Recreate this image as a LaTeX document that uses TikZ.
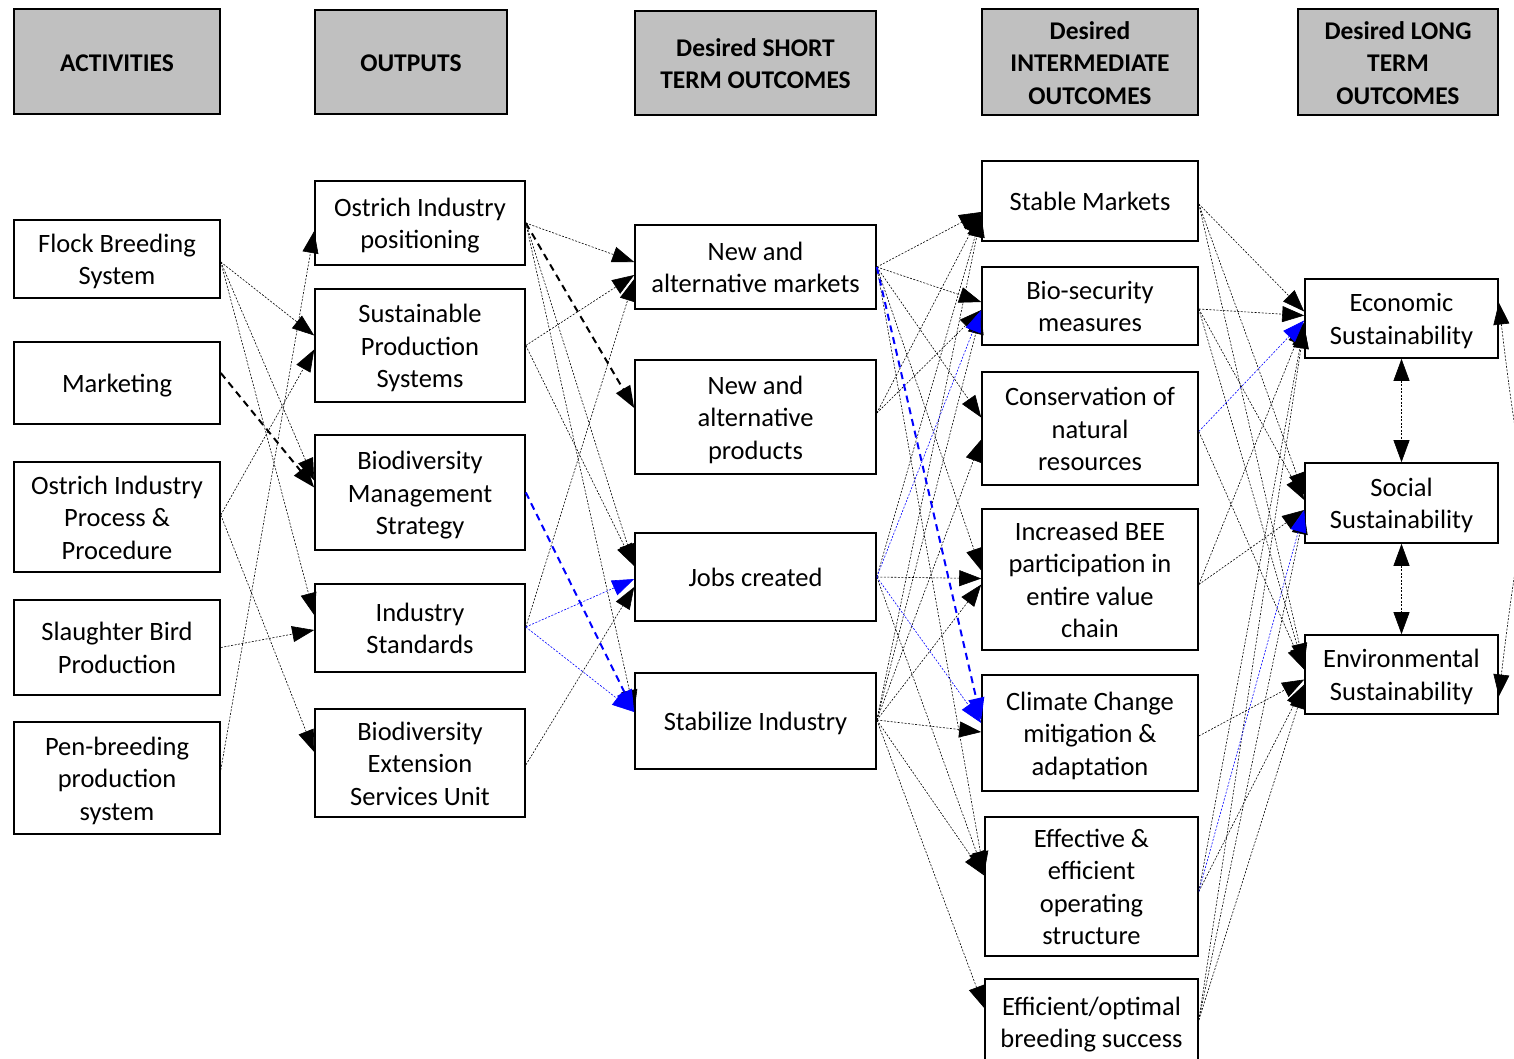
\documentclass[tikz,border=0pt]{standalone}
\usepackage{fontspec}
\setmainfont{Carlito}
\usetikzlibrary{arrows.meta}
\definecolor{headgray}{RGB}{192,192,192}
% first-line strut: Word style line box (gap above the text)
\newcommand{\ls}{\rule[-6.6pt]{0pt}{32.3pt}}
\begin{document}
\begin{tikzpicture}[x=1pt,y=-1pt,
	box/.style={draw=black, line width=1.6pt, align=center, inner sep=2pt, font=\fontsize{26.5}{32.5}\selectfont,
		execute at end node={\rule[-6.6pt]{0pt}{6.6pt}}},
	head/.style={box, fill=headgray, font=\fontsize{25.5}{32.5}\selectfont\bfseries},
	tip/.style={-{Triangle[length=22pt,width=16pt]}},
	link/.style={tip, black, line width=0.6pt, dash pattern=on 2pt off 1.5pt},
	bluelink/.style={link, blue},
	boldlink/.style={tip, black, line width=2pt, dash pattern=on 7pt off 5pt},
	boldblue/.style={boldlink, blue},
	twoway/.style={link, {Triangle[length=22pt,width=16pt]}-{Triangle[length=22pt,width=16pt]}}]
	\useasboundingbox (0,0) rectangle (1514,1058);

	% column headings
	\node[head, minimum width=206pt, minimum height=105pt] (hact) at (117,61.5) {\ls ACTIVITIES};
	\node[head, minimum width=192pt, minimum height=104pt] (hout) at (411,62) {\ls OUTPUTS};
	\node[head, minimum width=241pt, minimum height=104pt] (hshort) at (755.5,63) {\ls Desired SHORT\\TERM OUTCOMES};
	\node[head, minimum width=216pt, minimum height=106pt] (hint) at (1090,62) {\ls Desired\\INTERMEDIATE\\OUTCOMES};
	\node[head, minimum width=200pt, minimum height=106pt] (hlong) at (1398,62) {\ls Desired LONG\\TERM\\OUTCOMES};

	% activities
	\node[box, minimum width=206pt, minimum height=78pt] (flock) at (117,259) {\ls Flock Breeding\\System};
	\node[box, minimum width=206pt, minimum height=82pt] (mkt) at (117,383) {\ls Marketing};
	\node[box, minimum width=206pt, minimum height=110pt] (proc) at (117,517) {\ls Ostrich Industry\\Process \&\\Procedure};
	\node[box, minimum width=206pt, minimum height=95pt] (slaughter) at (117,647.5) {\ls Slaughter Bird\\Production};
	\node[box, minimum width=206pt, minimum height=112pt] (pen) at (117,778) {\ls Pen-breeding\\production\\system};

	% outputs
	\node[box, minimum width=210pt, minimum height=84pt] (pos) at (420,223) {\ls Ostrich Industry\\positioning};
	\node[box, minimum width=210pt, minimum height=113pt] (sust) at (420,345.5) {\ls Sustainable\\Production\\Systems};
	\node[box, minimum width=210pt, minimum height=115pt] (biomgmt) at (420,492.5) {\ls Biodiversity\\Management\\Strategy};
	\node[box, minimum width=210pt, minimum height=88pt] (indstd) at (420,628) {\ls Industry\\Standards};
	\node[box, minimum width=210pt, minimum height=108pt] (bioext) at (420,763) {\ls Biodiversity\\Extension\\Services Unit};

	% short term outcomes
	\node[box, minimum width=241pt, minimum height=84pt] (markets) at (755.5,267) {\ls New and\\alternative markets};
	\node[box, minimum width=241pt, minimum height=114pt] (products) at (755.5,417) {\ls New and\\alternative\\products};
	\node[box, minimum width=241pt, minimum height=88pt] (jobs) at (755.5,577) {\ls Jobs created};
	\node[box, minimum width=241pt, minimum height=96pt] (stab) at (755.5,721) {\ls Stabilize Industry};

	% intermediate outcomes
	\node[box, minimum width=216pt, minimum height=80pt] (stable) at (1090,201) {\ls Stable Markets};
	\node[box, minimum width=216pt, minimum height=78pt] (biosec) at (1090,306) {\ls Bio-security\\measures};
	\node[box, minimum width=216pt, minimum height=113pt] (conserv) at (1090,428.5) {\ls Conservation of\\natural\\resources};
	\node[box, minimum width=216pt, minimum height=141pt] (bee) at (1090,579.5) {\ls Increased BEE\\participation in\\entire value\\chain};
	\node[box, minimum width=216pt, minimum height=116pt] (climate) at (1090,733) {\ls Climate Change\\mitigation \&\\adaptation};
	\node[box, minimum width=213pt, minimum height=139pt] (effective) at (1091.5,886.5) {\ls Effective \&\\efficient\\operating\\structure};
	\node[box, minimum width=213pt, minimum height=86pt] (breeding) at (1091.5,1022) {\ls Efficient/optimal\\breeding success};

	% long term outcomes
	\node[box, minimum width=193pt, minimum height=79pt] (econ) at (1401.5,318.5) {\ls Economic\\Sustainability};
	\node[box, minimum width=193pt, minimum height=80pt] (social) at (1401.5,503) {\ls Social\\Sustainability};
	\node[box, minimum width=193pt, minimum height=79pt] (env) at (1401.5,674.5) {\ls Environmental\\Sustainability};

	% activities -> outputs
	\foreach \s/\a/\t/\b in {flock/-3/sust/10, flock/-3/biomgmt/12, flock/-3/indstd/13,
		proc/2/sust/-4, proc/2/bioext/11, slaughter/0/indstd/-2, pen/8/pos/-8}
		\draw[link] ([yshift=\a]\s.east) -- ([yshift=\b]\t.west);
	\draw[boldlink] ([yshift=10]mkt.east) -- ([yshift=5]biomgmt.west);

	% outputs -> short term
	\foreach \s/\a/\t/\b in {pos/0/markets/5, pos/0/jobs/11, pos/0/stab/9,
		sust/0/markets/-8, sust/0/jobs/11, indstd/1/markets/-12, bioext/-2/jobs/-10}
		\draw[link] ([yshift=\a]\s.east) -- ([yshift=\b]\t.west);
	\foreach \t/\b in {jobs/-2, stab/9}
		\draw[bluelink] ([yshift=1]indstd.east) -- ([yshift=\b]\t.west);
	\draw[boldlink] (pos.east) -- ([yshift=9]products.west);
	\draw[boldblue] (biomgmt.east) -- ([yshift=9]stab.west);

	% short term -> intermediate
	\foreach \s/\a/\t/\b in {markets/0/stable/-11, markets/0/biosec/4, markets/0/conserv/11,
		markets/0/bee/9, markets/0/effective/13, products/4/stable/-11, products/4/biosec/-4,
		jobs/0/bee/1, jobs/0/effective/13, jobs/0/stable/-14,
		stab/1/climate/1, stab/1/bee/-5, stab/1/effective/11, stab/1/breeding/14,
		stab/1/conserv/-11, stab/1/stable/-14, stab/1/biosec/-6}
		\draw[link] ([yshift=\a]\s.east) -- ([yshift=\b]\t.west);
	\foreach \t/\b in {biosec/-4, climate/10}
		\draw[bluelink] (jobs.east) -- ([yshift=\b]\t.west);
	\draw[boldblue] (markets.east) -- ([yshift=13]climate.west);

	% intermediate -> long term
	\foreach \s/\a/\t/\b in {stable/-3/econ/7, stable/-3/social/8, stable/-3/env/9,
		biosec/-3/econ/3, biosec/-3/social/3, biosec/-3/env/5, conserv/-3/env/5,
		bee/-5/econ/-4, bee/-5/social/-7, climate/-3/env/-5,
		effective/-5/env/-10, effective/-5/econ/-6,
		breeding/2/econ/-8, breeding/2/social/-9, breeding/2/env/-12}
		\draw[link] ([yshift=\a]\s.east) -- ([yshift=\b]\t.west);
	\draw[bluelink] ([yshift=-3]conserv.east) -- ([yshift=-2]econ.west);
	\draw[bluelink] ([yshift=-5]effective.east) -- ([yshift=-7]social.west);

	% links between long term outcomes
	\draw[twoway] (econ.south) -- (social.north);
	\draw[twoway] (social.south) -- (env.north);
	\draw[twoway] ([yshift=16]econ.east) .. controls (1536,620) and (1536,380) .. ([yshift=-22]env.east);
\end{tikzpicture}
\end{document}
